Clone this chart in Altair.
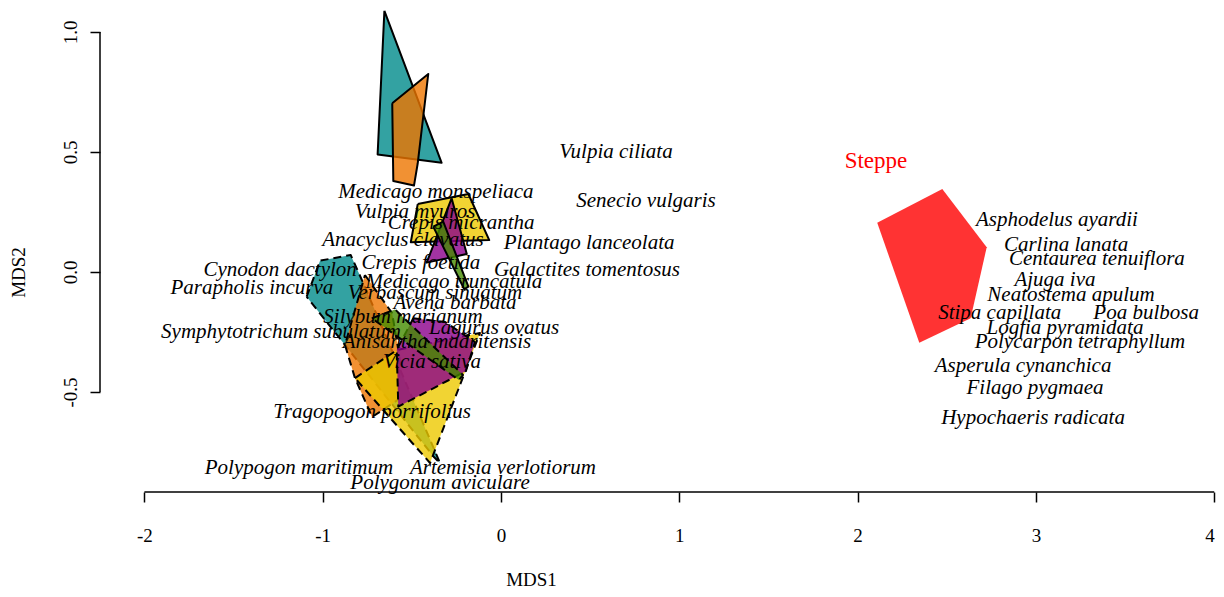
import altair as alt
import pandas as pd

# ---------------- scales / ticks ----------------
X_DOMAIN = [-2.249, 4.010]
Y_DOMAIN = [-0.9167, 1.10]
x_ticks = [-2, -1, 0, 1, 2, 3, 4]
y_ticks = [-0.5, 0.0, 0.5, 1.0]

# ---------------- hull colours ----------------
teal = "#008B8B"
orange = "#EE7600"
yellow = "#EEC900"
magenta = "#8B008B"
green = "#458B00"
red = "#FF0000"

# ---------------- hulls (solid border group) ----------------
teal_a_x = [-0.654, -0.333, -0.692]
teal_a_y = [1.088, 0.455, 0.490]
orange_a_x = [-0.610, -0.408, -0.467, -0.488, -0.604]
orange_a_y = [0.703, 0.825, 0.453, 0.360, 0.379]
yellow_a_x = [-0.467, -0.183, -0.066, -0.506]
yellow_a_y = [0.283, 0.325, 0.133, 0.124]
magenta_a_x = [-0.277, -0.192, -0.417]
magenta_a_y = [0.307, 0.075, 0.039]
green_a_x = [-0.380, -0.324, -0.183, -0.206]
green_a_y = [0.189, 0.210, -0.061, -0.072]

# ---------------- hulls (dashed border group) ----------------
teal_b_x = [-1.090, -1.015, -0.843, -0.775, -0.342, -0.376]
teal_b_y = [-0.103, 0.047, 0.071, -0.042, -0.796, -0.771]
orange_b_x = [-0.763, -0.611, -0.566, -0.578, -0.723, -0.819, -0.875]
orange_b_y = [-0.0125, -0.171, -0.367, -0.533, -0.604, -0.442, -0.304]
yellow_b_x = [-0.819, -0.583, -0.118, -0.398]
yellow_b_y = [-0.442, -0.325, -0.254, -0.796]
magenta_b_x = [-0.492, -0.315, -0.146, -0.197, -0.576, -0.585]
magenta_b_y = [-0.193, -0.208, -0.292, -0.413, -0.561, -0.325]
green_b_x = [-0.725, -0.594, -0.213, -0.236]
green_b_y = [-0.193, -0.156, -0.429, -0.450]

# ---------------- steppe hull ----------------
steppe_x = [2.110, 2.475, 2.724, 2.634, 2.346]
steppe_y = [0.205, 0.346, 0.103, -0.193, -0.295]

# ---------------- species labels ----------------
species = ["Vulpia ciliata", "Senecio vulgaris", "Medicago monspeliaca", "Vulpia myuros",
           "Crepis micrantha", "Plantago lanceolata", "Anacyclus clavatus", "Cynodon dactylon",
           "Crepis foetida", "Galactites tomentosus", "Medicago truncatula", "Parapholis incurva",
           "Verbascum sinuatum", "Avena barbata", "Silybum marianum", "Lagurus ovatus",
           "Symphytotrichum subulatum", "Anisantha madritensis", "Vicia sativa",
           "Tragopogon porrifolius", "Polypogon maritimum", "Artemisia verlotiorum",
           "Polygonum aviculare", "Asphodelus ayardii", "Carlina lanata", "Centaurea tenuiflora",
           "Ajuga iva", "Neatostema apulum", "Stipa capillata", "Poa bulbosa", "Logfia pyramidata",
           "Polycarpon tetraphyllum", "Asperula cynanchica", "Filago pygmaea", "Hypochaeris radicata"]
species_x = [0.645, 0.813, -0.365, -0.482, -0.224, 0.494, -0.550, -1.239,
             -0.449, 0.482, -0.264, -1.397, -0.370, -0.258, -0.550, -0.039,
             -1.234, -0.359, -0.387, -0.723, -1.133, 0.011, -0.342,
             3.118, 3.169, 3.342, 3.107, 3.197, 2.797, 3.618, 3.163, 3.247, 2.928, 2.995, 2.984]
species_y = [0.500, 0.296, 0.333, 0.250, 0.204, 0.121, 0.133, 0.008,
             0.0375, 0.008, -0.042, -0.067, -0.0875, -0.129, -0.1875, -0.233,
             -0.250, -0.290, -0.375, -0.583, -0.817, -0.817, -0.879,
             0.217, 0.1125, 0.054, -0.033, -0.096, -0.171, -0.171, -0.233, -0.292, -0.392, -0.483, -0.608]

group_label = ["Steppe"]
group_x = [2.103]
group_y = [0.4625]

FONT = "Liberation Serif"

X = alt.X("x:Q", scale=alt.Scale(domain=X_DOMAIN, nice=False, zero=False),
          axis=alt.Axis(values=x_ticks, domain=False, grid=False, tickSize=10, tickWidth=1.5,
                        tickColor="black", labelFont=FONT, labelFontSize=19, labelColor="black",
                        labelPadding=33, labelBaseline="middle", labelFlush=False,
                        labelAlign={"condition": {"test": f"datum.value == {x_ticks[-1]}", "value": "right"},
                                    "value": "center"},
                        labelOverlap=False, labelBound=False,
                        labelExpr="datum.value < 0 ? '-' + format(-datum.value, 'd') : format(datum.value, 'd')",
                        title="MDS1", titleFont=FONT, titleFontSize=19, titleFontWeight="normal",
                        titleColor="black", titleX=431, titleY=87, titleAlign="center",
                        titleBaseline="middle"))
Y = alt.Y("y:Q", scale=alt.Scale(domain=Y_DOMAIN, nice=False, zero=False),
          axis=alt.Axis(values=y_ticks, domain=False, grid=False, tickSize=10, tickWidth=1.5,
                        tickColor="black", labelFont=FONT, labelFontSize=19, labelColor="black",
                        labelPadding=20, labelAngle=270, labelAlign="center", labelBaseline="middle",
                        labelFlush=False, labelOverlap=False, labelBound=False,
                        labelExpr="datum.value < 0 ? '-' + format(-datum.value, '.1f') : format(datum.value, '.1f')",
                        title="MDS2", titleFont=FONT, titleFontSize=19, titleFontWeight="normal",
                        titleColor="black", titleX=-82, titleY=264, titleAlign="center",
                        titleBaseline="middle"))


def hull(xs, ys, color, dashed=False, border=True):
    n = len(xs)
    df = pd.DataFrame({"x": xs + [xs[0]], "y": ys + [ys[0]], "i": list(range(n + 1))})
    props = dict(fill=color, fillOpacity=0.8, strokeJoin="round", strokeCap="butt")
    if border:
        props.update(stroke="black", strokeWidth=2)
        if dashed:
            props["strokeDash"] = [8, 5]
    else:
        props.update(stroke=color, strokeWidth=0, strokeOpacity=0)
    return alt.Chart(df).mark_line(**props).encode(x=X, y=Y, order="i:Q")


layers = [
    hull(teal_a_x, teal_a_y, teal),
    hull(orange_a_x, orange_a_y, orange),
    hull(yellow_a_x, yellow_a_y, yellow),
    hull(magenta_a_x, magenta_a_y, magenta),
    hull(green_a_x, green_a_y, green),
    hull(teal_b_x, teal_b_y, teal, dashed=True),
    hull(orange_b_x, orange_b_y, orange, dashed=True),
    hull(yellow_b_x, yellow_b_y, yellow, dashed=True),
    hull(magenta_b_x, magenta_b_y, magenta, dashed=True),
    hull(green_b_x, green_b_y, green, dashed=True),
    hull(steppe_x, steppe_y, red, border=False),
]

sp_df = pd.DataFrame({"x": species_x, "y": species_y, "label": species})
layers.append(
    alt.Chart(sp_df).mark_text(font=FONT, fontStyle="italic", fontSize=21, color="black",
                               align="center", baseline="middle")
    .encode(x=X, y=Y, text="label:N")
)
gr_df = pd.DataFrame({"x": group_x, "y": group_y, "label": group_label})
layers.append(
    alt.Chart(gr_df).mark_text(font=FONT, fontSize=23, color="red", align="center", baseline="middle")
    .encode(x=X, y=Y, text="label:N")
)

# axis lines spanning first to last tick (R style)
xaxis_df = pd.DataFrame({"x": [x_ticks[0]], "x2": [x_ticks[-1]], "y": [Y_DOMAIN[0]]})
layers.append(alt.Chart(xaxis_df).mark_rule(color="black", strokeWidth=1.5)
              .encode(x=X, x2="x2:Q", y=Y))
yaxis_df = pd.DataFrame({"x": [X_DOMAIN[0]], "y": [y_ticks[0]], "y2": [y_ticks[-1]]})
layers.append(alt.Chart(yaxis_df).mark_rule(color="black", strokeWidth=1.5)
              .encode(x=X, y=Y, y2="y2:Q"))

chart = alt.layer(*layers).properties(
    width=1116, height=484,
    padding={"left": 92, "top": 0, "right": 0, "bottom": 97},
    autosize=alt.AutoSizeParams(type="none"),
    background="white",
).configure_view(stroke=None)

chart.save("out.html", embed_options={"renderer": "svg", "actions": False})
